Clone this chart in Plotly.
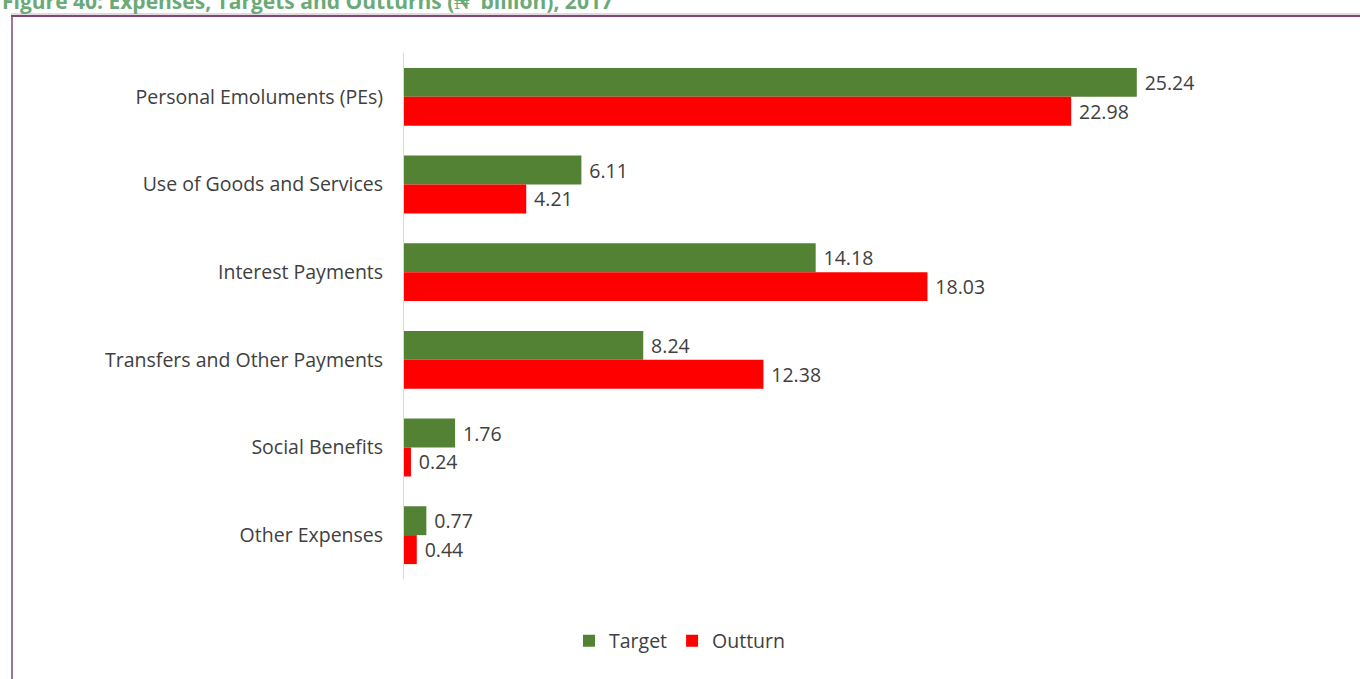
import plotly.graph_objects as go

# Expense categories (top to bottom) and values in N' billion
categories = [
    "Personal Emoluments (PEs)",
    "Use of Goods and Services",
    "Interest Payments",
    "Transfers and Other Payments",
    "Social Benefits",
    "Other Expenses",
]
target = [25.24, 6.11, 14.18, 8.24, 1.76, 0.77]
outturn = [22.98, 4.21, 18.03, 12.38, 0.24, 0.44]

W, H = 1360, 679
FONT = "Open Sans"
FS = 19.5
TXT = "#404040"
GAP = "\u2005"  # small gap between a bar's end and its value label

fig = go.Figure()
fig.add_trace(go.Bar(
    y=categories, x=target, orientation="h", name="Target",
    marker=dict(color="#548235", line=dict(width=0)),
    text=[f"{GAP}{v:.2f}" for v in target], textposition="outside",
    textfont=dict(family=FONT, size=FS, color=TXT), cliponaxis=False,
))
fig.add_trace(go.Bar(
    y=categories, x=outturn, orientation="h", name="Outturn",
    marker=dict(color="#FF0000", line=dict(width=0)),
    text=[f"{GAP}{v:.2f}" for v in outturn], textposition="outside",
    textfont=dict(family=FONT, size=FS, color=TXT), cliponaxis=False,
))

fig.update_layout(
    width=W, height=H,
    margin=dict(l=404, r=85, t=53, b=100, autoexpand=False),
    paper_bgcolor="white", plot_bgcolor="white",
    barmode="group", bargap=0.34, bargroupgap=0,
    font=dict(family=FONT, size=FS, color=TXT),
    xaxis=dict(range=[0, 30], visible=False),
    yaxis=dict(autorange="reversed", showline=True, linecolor="#d9d9d9",
               linewidth=1, ticks="", ticklabelstandoff=16,
               tickfont=dict(family=FONT, size=FS, color=TXT)),
    legend=dict(orientation="h", x=0.5, xanchor="center",
                xref="container", y=(H - 641) / H, yref="container",
                yanchor="middle", traceorder="normal",
                font=dict(family=FONT, size=FS, color=TXT),
                itemwidth=30),
    showlegend=True,
)

# Figure frame: double rule along the top, single rule down the left
PW, PH = W - 404 - 85, H - 53 - 100
fig.add_shape(type="line", xref="paper", yref="paper",
              x0=(11 - 404) / PW, x1=(W - 404) / PW,
              y0=1 + (53 - 14) / PH, y1=1 + (53 - 14) / PH,
              line=dict(color="#c9b3c4", width=1))
fig.add_shape(type="line", xref="paper", yref="paper",
              x0=(11 - 404) / PW, x1=(W - 404) / PW,
              y0=1 + (53 - 16) / PH, y1=1 + (53 - 16) / PH,
              line=dict(color="#7b4a72", width=2))
fig.add_shape(type="line", xref="paper", yref="paper",
              x0=(12 - 404) / PW, x1=(12 - 404) / PW,
              y0=1 + (53 - 15) / PH, y1=-(100 + 5) / PH,
              line=dict(color="#7b4a72", width=1.5))

# Heading, sitting at the top edge of the page
fig.add_annotation(
    text="Figure 40: Expenses, Targets and Outturns (₦' billion), 2017",
    xref="paper", yref="paper",
    x=(0 - 404) / PW, xanchor="left",
    y=1 + (53 - 1) / PH, yanchor="middle",
    showarrow=False,
    font=dict(family=FONT, size=21, color="#6aaa78", weight="bold"),
)

fig.write_html("out.html")
